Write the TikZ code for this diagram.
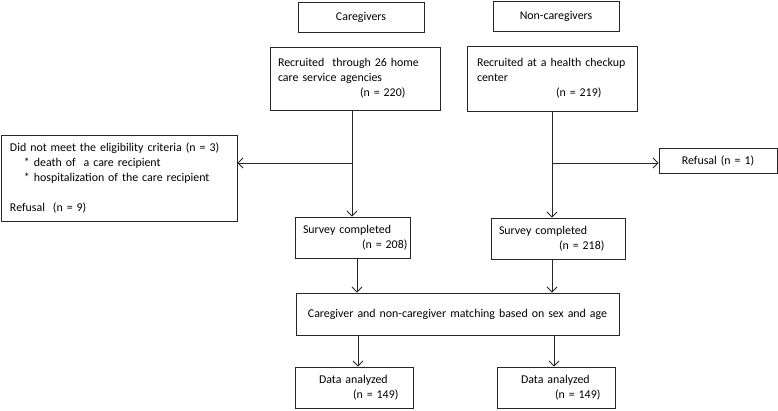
\documentclass[tikz,border=0pt]{standalone}
\usepackage{fontspec}
\setmainfont{Carlito}
\usetikzlibrary{arrows.meta}
\begin{document}
\begin{tikzpicture}[x=1pt,y=-1pt,
  bx/.style={draw=black!85, line width=0.9pt, rectangle, inner xsep=0pt, inner ysep=0pt,
    align=left, font=\fontsize{11.9}{15}\selectfont, text=black},
  cbx/.style={bx, align=center},
  arr/.style={draw=black!85, line width=0.9pt, -{Straight Barb[length=5pt,width=10pt]}}]
\useasboundingbox (0,0) rectangle (778,410);
\node[cbx, text width=126pt, minimum height=30pt] (cg) at (361,17) {Caregivers};
\node[cbx, text width=126pt, minimum height=30pt] (ncg) at (556,16) {Non-caregivers};
\node[bx, text width=170pt, minimum height=63pt] (rc) at (355,78.5)
  {\hspace*{8pt}\rlap{Recruited\ \ through 26 home}\\\hspace*{8pt}\rlap{care service agencies}\\\hspace*{90pt}\rlap{(n = 220)}};
\node[bx, text width=170pt, minimum height=65pt] (rn) at (552,78.5)
  {\hspace*{10pt}\rlap{Recruited at a health checkup}\\\hspace*{10pt}\rlap{center}\\\hspace*{89pt}\rlap{(n = 219)}};
\node[bx, text width=236pt, minimum height=86pt] (excl) at (119,178)
  {\hspace*{9pt}\rlap{Did not meet the eligibility criteria (n = 3)}\\
   \hspace*{23pt}\rlap{* death of\ \ a care recipient}\\
   \hspace*{23pt}\rlap{* hospitalization of the care recipient}\\[15pt]
   \hspace*{9pt}\rlap{Refusal\ \ (n = 9)}};
\node[cbx, text width=118pt, minimum height=25pt] (ref) at (718,160.5) {Refusal (n = 1)};
\node[bx, text width=115pt, minimum height=41pt] (sc) at (352.5,237.5)
  {\hspace*{8pt}\rlap{Survey completed}\\\hspace*{67pt}\rlap{(n = 208)}};
\node[bx, text width=134pt, minimum height=41pt] (sn) at (558,238.5)
  {\hspace*{8pt}\rlap{Survey completed}\\\hspace*{68pt}\rlap{(n = 218)}};
\node[cbx, text width=323pt, minimum height=42pt] (m) at (457.5,314)
  {Caregiver and non-caregiver matching based on sex and age};
\node[bx, text width=118pt, minimum height=41pt] (dc) at (354,387.5)
  {\hspace*{24pt}\rlap{Data analyzed}\\\hspace*{58pt}\rlap{(n = 149)}};
\node[bx, text width=118pt, minimum height=41pt] (dn) at (556,387.5)
  {\hspace*{24pt}\rlap{Data analyzed}\\\hspace*{58pt}\rlap{(n = 149)}};
% caregiver branch
\coordinate (c1) at (352,163);
\draw[arr] (rc.south -| c1) -- (sc.north -| c1);
\draw[arr] (c1) -- (c1 -| excl.east);
% non-caregiver branch
\coordinate (n1) at (552,163);
\draw[arr] (rn.south -| n1) -- (sn.north -| n1);
\draw[arr] (n1) -- (n1 -| ref.west);
% to matching
\draw[arr] ([xshift=4.5pt]sc.south) -- ([xshift=4.5pt]sc.south |- m.north);
\draw[arr] ([xshift=-6pt]sn.south) -- ([xshift=-6pt]sn.south |- m.north);
% to data
\draw[arr] ([xshift=4pt]dc.north |- m.south) -- ([xshift=4pt]dc.north);
\draw[arr] ([xshift=-2pt]dn.north |- m.south) -- ([xshift=-2pt]dn.north);
\end{tikzpicture}
\end{document}
